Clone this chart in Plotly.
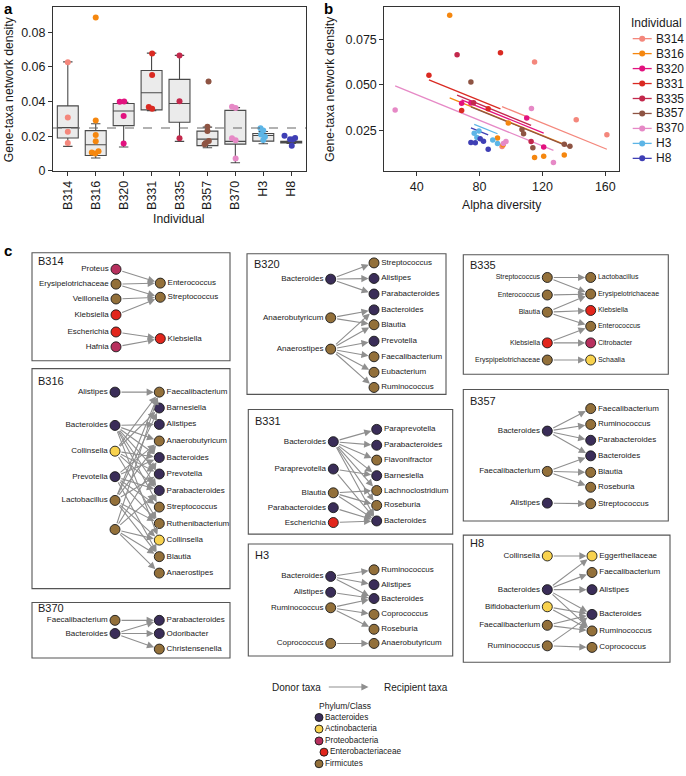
import plotly.graph_objects as go

W, H = 686, 776
FONT = "Liberation Sans, Arial, sans-serif"

# ---------------- Panels a / b data ----------------
individuals = ["B314", "B316", "B320", "B331", "B335", "B357", "B370", "H3", "H8"]

alpha_diversity = [
    [115, 141.5, 161, 94.3],
    [61, 98.3, 91.4, 133.9, 120.8, 115, 95],
    [68.6, 74.5, 110, 120.8],
    [93.3, 47.8, 85.5, 68.6],
    [65.7, 76.2, 112.8],
    [74.5, 107, 108, 113.9, 133.9, 137.5],
    [26.3, 113, 96.8, 95.2, 127],
    [79.6, 76.6, 78.3, 88.4, 91.4],
    [74.5, 77.3, 80.4, 82.5, 85.5],
]
network_density = [
    [0.0627, 0.0308, 0.0225, 0.0160],
    [0.0885, 0.0290, 0.0207, 0.0113, 0.0106, 0.0099, 0.0170],
    [0.0399, 0.0400, 0.0317, 0.0157],
    [0.0677, 0.0553, 0.0368, 0.0358],
    [0.0666, 0.0402, 0.0188],
    [0.0516, 0.0254, 0.0230, 0.0153, 0.0172, 0.0161],
    [0.0362, 0.0370, 0.0188, 0.0176, 0.0071],
    [0.0245, 0.0233, 0.0210, 0.0196, 0.0177],
    [0.0182, 0.0180, 0.0202, 0.0189, 0.0144],
]
# horizontal jitter of the panel-a points (category units)
point_jitter = [
    [0, 0, 0, 0],
    [0, 0, 0, 0.1, -0.14, -0.02, 0],
    [-0.14, 0.02, 0, 0],
    [0.02, 0.02, -0.1, 0.02],
    [0, 0, 0],
    [0.04, 0, 0, -0.1, 0.05, -0.06],
    [0.01, -0.12, -0.12, 0.01, 0.01],
    [-0.1, 0.0, -0.08, 0.06, 0.0],
    [-0.04, 0.05, -0.24, 0.14, 0.02],
]

box_lower = [0.0141, 0.0074, 0.0137, 0.0347, 0.0170, 0.0133, 0.0046, 0.0156, 0.0158]
box_q1 = [0.0189, 0.0088, 0.0261, 0.0352, 0.0280, 0.0145, 0.0154, 0.0171, 0.0160]
box_median = [0.0249, 0.0150, 0.0345, 0.0451, 0.0389, 0.0183, 0.0170, 0.0204, 0.0164]
box_q3 = [0.0375, 0.0232, 0.0389, 0.0579, 0.0528, 0.0229, 0.0349, 0.0215, 0.0170]
box_upper = [0.0629, 0.0272, 0.0395, 0.0680, 0.0667, 0.0252, 0.0365, 0.0227, 0.0172]
overall_median_density = 0.0247

fit_slope = -0.000353
fit_intercept = [0.0713, 0.0644, 0.0660, 0.0697, 0.0675, 0.0642, 0.0587, 0.0553, 0.0526]

ind_colors = ["#F4877C", "#F5870F", "#E2127F", "#DA2A22", "#C3284C", "#8E5443",
              "#E689C6", "#5DB5E6", "#3F3FB5"]

# ---------------- Panel c data ----------------
PHY_COL = {"Bacteroides": "#3A2D58", "Actinobacteria": "#F8D24E",
           "Proteobacteria": "#B7305E", "Enterobacteriaceae": "#E2261C",
           "Firmicutes": "#93703A"}
BAC, ACT, PRO, ENT, FIR = "Bacteroides", "Actinobacteria", "Proteobacteria", "Enterobacteriaceae", "Firmicutes"

B314_donors = ["Proteus", "Erysipelotrichaceae", "Veillonella", "Klebsiella", "Escherichia", "Hafnia"]
B314_donor_phyla = [PRO, FIR, FIR, ENT, ENT, PRO]
B314_recipients = ["Enterococcus", "Streptococcus", "Klebsiella"]
B314_recipient_phyla = [FIR, FIR, ENT]
B314_edges = [(0, 0), (1, 0), (1, 1), (2, 1), (3, 1), (4, 2), (5, 2)]

B316_donors = ["Alistipes", "Bacteroides", "Collinsella", "Prevotella", "Lactobacillus", ""]
B316_donor_phyla = [BAC, BAC, ACT, BAC, FIR, FIR]
B316_recipients = ["Faecalibacterium", "Barnesiella", "Alistipes", "Anaerobutyricum", "Bacteroides",
                   "Prevotella", "Parabacteroides", "Streptococcus", "Ruthenibacterium",
                   "Collinsella", "Blautia", "Anaerostipes"]
B316_recipient_phyla = [FIR, BAC, BAC, FIR, BAC, BAC, BAC, FIR, FIR, ACT, FIR, FIR]
B316_edges = [(0, 0),
              (1, 2), (1, 3), (1, 4), (1, 5), (1, 6), (1, 7), (1, 9),
              (2, 0), (2, 1), (2, 4), (2, 5), (2, 6), (2, 8),
              (3, 3), (3, 4), (3, 6), (3, 7), (3, 8), (3, 10),
              (4, 0), (4, 1), (4, 3), (4, 5), (4, 8), (4, 9), (4, 10),
              (5, 0), (5, 4), (5, 6), (5, 9), (5, 10), (5, 11)]

B370_donors = ["Faecalibacterium", "Bacteroides"]
B370_donor_phyla = [FIR, BAC]
B370_recipients = ["Parabacteroides", "Odoribacter", "Christensenella"]
B370_recipient_phyla = [BAC, BAC, FIR]
B370_edges = [(0, 0), (1, 0), (1, 1), (1, 2)]

B320_donors = ["Bacteroides", "Anaerobutyricum", "Anaerostipes"]
B320_donor_phyla = [BAC, FIR, FIR]
B320_recipients = ["Streptococcus", "Alistipes", "Parabacteroides", "Bacteroides", "Blautia",
                   "Prevotella", "Faecalibacterium", "Eubacterium", "Ruminococcus"]
B320_recipient_phyla = [FIR, BAC, BAC, BAC, FIR, BAC, FIR, FIR, FIR]
B320_edges = [(0, 0), (0, 1), (0, 2), (1, 3), (1, 4),
              (2, 3), (2, 4), (2, 5), (2, 6), (2, 7), (2, 8)]

B331_donors = ["Bacteroides", "Paraprevotella", "Blautia", "Parabacteroides", "Escherichia"]
B331_donor_phyla = [BAC, BAC, FIR, BAC, ENT]
B331_recipients = ["Paraprevotella", "Parabacteroides", "Flavonifractor", "Barnesiella",
                   "Lachnoclostridium", "Roseburia", "Bacteroides"]
B331_recipient_phyla = [BAC, BAC, FIR, BAC, FIR, FIR, BAC]
B331_edges = [(0, 0), (0, 1), (0, 2), (0, 3), (0, 4), (0, 5), (0, 6),
              (1, 3), (1, 6), (2, 4), (2, 5), (2, 6), (3, 6), (4, 6)]

H3_donors = ["Bacteroides", "Alistipes", "Ruminococcus", "Coprococcus"]
H3_donor_phyla = [BAC, BAC, FIR, FIR]
H3_recipients = ["Ruminococcus", "Alistipes", "Bacteroides", "Coprococcus", "Roseburia", "Anaerobutyricum"]
H3_recipient_phyla = [FIR, BAC, BAC, FIR, FIR, FIR]
H3_edges = [(0, 0), (0, 1), (0, 2), (1, 2), (2, 2), (2, 3), (2, 4), (3, 5)]

B335_donors = ["Streptococcus", "Enterococcus", "Blautia", "Klebsiella", "Eryspipelotrichaceae"]
B335_donor_phyla = [FIR, FIR, FIR, ENT, FIR]
B335_recipients = ["Lactobacillus", "Erysipelotrichaceae", "Klebsiella", "Enterococcus", "Citrobacter", "Schaalia"]
B335_recipient_phyla = [FIR, FIR, ENT, FIR, PRO, ACT]
B335_edges = [(0, 0), (0, 1), (1, 1), (2, 1), (2, 2), (2, 3), (3, 3), (3, 4), (4, 5)]

B357_donors = ["Bacteroides", "Faecalibacterium", "Alistipes"]
B357_donor_phyla = [BAC, FIR, BAC]
B357_recipients = ["Faecalibacterium", "Ruminococcus", "Parabacteroides", "Bacteroides",
                   "Blautia", "Roseburia", "Streptococcus"]
B357_recipient_phyla = [FIR, FIR, BAC, BAC, FIR, FIR, FIR]
B357_edges = [(0, 0), (0, 1), (0, 2), (0, 3), (1, 3), (1, 4), (1, 5), (2, 6)]

H8_donors = ["Collinsella", "Bacteroides", "Bifidobacterium", "Faecalibacterium", "Ruminococcus"]
H8_donor_phyla = [ACT, BAC, ACT, FIR, FIR]
H8_recipients = ["Eggerthellaceae", "Faecalibacterium", "Alistipes", "Bacteroides", "Ruminococcus", "Coprococcus"]
H8_recipient_phyla = [ACT, FIR, BAC, BAC, FIR, FIR]
H8_edges = [(0, 0), (1, 0), (1, 1), (1, 2), (1, 3), (1, 4),
            (2, 3), (2, 4), (3, 3), (3, 4), (4, 3), (4, 5)]

networks = [
    ("B314", B314_donors, B314_donor_phyla, B314_recipients, B314_recipient_phyla, B314_edges),
    ("B316", B316_donors, B316_donor_phyla, B316_recipients, B316_recipient_phyla, B316_edges),
    ("B370", B370_donors, B370_donor_phyla, B370_recipients, B370_recipient_phyla, B370_edges),
    ("B320", B320_donors, B320_donor_phyla, B320_recipients, B320_recipient_phyla, B320_edges),
    ("B331", B331_donors, B331_donor_phyla, B331_recipients, B331_recipient_phyla, B331_edges),
    ("H3", H3_donors, H3_donor_phyla, H3_recipients, H3_recipient_phyla, H3_edges),
    ("B335", B335_donors, B335_donor_phyla, B335_recipients, B335_recipient_phyla, B335_edges),
    ("B357", B357_donors, B357_donor_phyla, B357_recipients, B357_recipient_phyla, B357_edges),
    ("H8", H8_donors, H8_donor_phyla, H8_recipients, H8_recipient_phyla, H8_edges),
]
legend_phyla = ["Bacteroides", "Actinobacteria", "Proteobacteria", "Enterobacteriaceae", "Firmicutes"]

# ---------------- Panel c layout (pixel geometry) ----------------
net_geom = {
    "B314": dict(box=(32, 255, 230, 364), title=(36, 263), dx=116, rx=160.3, fs=8,
                 dy=[271.7, 286.7, 301.7, 317.7, 335, 350], ry=[285.7, 300, 341.7]),
    "B316": dict(box=(32, 372, 230, 594), title=(36, 384), dx=115, rx=159.3, fs=8,
                 dy=[395.7, 429.3, 455.3, 481, 505, 534.3],
                 ry=[395.7, 411.7, 428.3, 445, 461.7, 478.3, 495, 511.7, 528.3, 545, 561.7, 578.3]),
    "B370": dict(box=(32, 608, 230, 664), title=(36, 614), dx=115, rx=159.3, fs=8,
                 dy=[626, 639.3], ry=[626, 639.3, 655]),
    "B320": dict(box=(247, 256, 446, 398), title=(252, 266), dx=330.7, rx=374, fs=8,
                 dy=[281.7, 320.7, 352.3],
                 ry=[265.3, 281, 296.7, 312.7, 327.7, 344.3, 360, 375.7, 391]),
    "B331": dict(box=(248.3, 413.3, 452.7, 539), title=(253, 425), dx=333.3, rx=376.7, fs=8,
                 dy=[445.7, 473.3, 497.3, 512.3, 527.3],
                 ry=[433.3, 449.3, 464.3, 480, 495, 510, 525.7]),
    "H3": dict(box=(248.3, 549, 452.7, 662), title=(253, 560), dx=330.7, rx=374, fs=8,
               dy=[581.7, 597.7, 613.3, 649.3], ry=[575, 590, 604, 620, 635, 649.3]),
    "B335": dict(box=(463.3, 257, 668.3, 377.7), title=(468, 267), dx=547.3, rx=590.7, fs=7,
                 dy=[280, 297.7, 315, 346, 363.3], ry=[280, 296.7, 313.3, 329.3, 346, 363.3]),
    "B357": dict(box=(463.3, 393, 668.3, 525.7), title=(468, 405), dx=547.3, rx=590.7, fs=8,
                 dy=[435, 475.7, 507.7], ry=[412.3, 428.3, 444.3, 460, 476.7, 491.7, 508.3]),
    "H8": dict(box=(463.3, 540, 670, 668.3), title=(468, 548.3), dx=547.3, rx=592, fs=8,
               dy=[561, 595, 612.3, 631, 651.7], ry=[561, 577.7, 595, 620, 636.7, 653.3]),
}

fig = go.Figure()
shapes, annotations = [], []
TXT = "#1a1a1a"
AXC = "#333333"

# ---------------- Panel a ----------------
for i, name in enumerate(individuals):
    fig.add_trace(go.Box(
        x=[i], q1=[box_q1[i]], median=[box_median[i]], q3=[box_q3[i]],
        lowerfence=[box_lower[i]], upperfence=[box_upper[i]],
        width=0.75, whiskerwidth=0.45, fillcolor="#EBEBEB",
        line=dict(color="#4a4a4a", width=1.1), boxpoints=False,
        showlegend=False, xaxis="x", yaxis="y", hoverinfo="skip"))
shapes.append(dict(type="line", xref="x domain", yref="y", x0=0, x1=1,
                   y0=overall_median_density, y1=overall_median_density,
                   line=dict(color="#666666", width=1.1, dash="dash"), layer="above"))
for i, name in enumerate(individuals):
    xs = [i + j for j in point_jitter[i]]
    fig.add_trace(go.Scatter(
        x=xs, y=network_density[i], mode="markers",
        marker=dict(color=ind_colors[i], size=6), showlegend=False,
        xaxis="x", yaxis="y", hoverinfo="skip"))

# ---------------- Panel b ----------------
for i, name in enumerate(individuals):
    xa = alpha_diversity[i]
    x0, x1 = min(xa), max(xa)
    fig.add_trace(go.Scatter(
        x=[x0, x1], y=[fit_intercept[i] + fit_slope * x0, fit_intercept[i] + fit_slope * x1],
        mode="lines", line=dict(color=ind_colors[i], width=1.3), showlegend=False,
        xaxis="x2", yaxis="y2", hoverinfo="skip"))
for i, name in enumerate(individuals):
    fig.add_trace(go.Scatter(
        x=alpha_diversity[i], y=network_density[i], mode="markers",
        marker=dict(color=ind_colors[i], size=5.5), showlegend=False,
        xaxis="x2", yaxis="y2", hoverinfo="skip"))

# manual legend for panel b (pixel space)
leg_x0, leg_y0, leg_dy = 632.7, 39, 15.1
annotations.append(dict(x=628.5, y=23.3, xref="x3", yref="y3", text="Individual", showarrow=False,
                        xanchor="left", yanchor="middle", font=dict(size=12, color=TXT, family=FONT)))
for i, name in enumerate(individuals):
    yy = leg_y0 + i * leg_dy
    shapes.append(dict(type="line", xref="x3", yref="y3", x0=leg_x0, x1=leg_x0 + 19, y0=yy, y1=yy,
                       line=dict(color=ind_colors[i], width=1.3)))
    annotations.append(dict(x=654, y=yy, xref="x3", yref="y3", text=name, showarrow=False,
                            xanchor="left", yanchor="middle", font=dict(size=12, color=TXT, family=FONT)))
fig.add_trace(go.Scatter(
    x=[leg_x0 + 9.5] * len(individuals), y=[leg_y0 + i * leg_dy for i in range(len(individuals))],
    mode="markers", marker=dict(color=ind_colors, size=6), showlegend=False,
    xaxis="x3", yaxis="y3", hoverinfo="skip"))

# ---------------- Panel c ----------------
R = 5.0
for (name, dn, dp, rn, rp, edges) in networks:
    g = net_geom[name]
    bx0, by0, bx1, by1 = g["box"]
    shapes.append(dict(type="rect", xref="x3", yref="y3", x0=bx0, x1=bx1, y0=by0, y1=by1,
                       line=dict(color="#555555", width=1.1), fillcolor="rgba(0,0,0,0)", layer="below"))
    annotations.append(dict(x=g["title"][0], y=g["title"][1], xref="x3", yref="y3", text=name,
                            showarrow=False, xanchor="left", yanchor="middle",
                            font=dict(size=11, color=TXT, family=FONT)))
    for (d, r) in edges:
        annotations.append(dict(
            x=g["rx"], y=g["ry"][r], ax=g["dx"], ay=g["dy"][d],
            xref="x3", yref="y3", axref="x3", ayref="y3", text="", showarrow=True,
            arrowhead=2, arrowsize=1.3, arrowwidth=1.1, arrowcolor="#8f8f8f",
            standoff=R + 0.5, startstandoff=R))
    fig.add_trace(go.Scatter(
        x=[g["dx"]] * len(dn), y=g["dy"], mode="markers+text", text=dn,
        textposition="middle left", textfont=dict(size=g["fs"], color=TXT, family=FONT),
        marker=dict(size=2 * R, color=[PHY_COL[p] for p in dp], line=dict(color="#1a1a1a", width=0.9)),
        showlegend=False, xaxis="x3", yaxis="y3", hoverinfo="skip", cliponaxis=False))
    fig.add_trace(go.Scatter(
        x=[g["rx"]] * len(rn), y=g["ry"], mode="markers+text", text=rn,
        textposition="middle right", textfont=dict(size=g["fs"], color=TXT, family=FONT),
        marker=dict(size=2 * R, color=[PHY_COL[p] for p in rp], line=dict(color="#1a1a1a", width=0.9)),
        showlegend=False, xaxis="x3", yaxis="y3", hoverinfo="skip", cliponaxis=False))

# bottom legend
annotations.append(dict(x=323, y=693.3, xref="x3", yref="y3", text="Donor taxa", showarrow=False,
                        xanchor="right", yanchor="middle", font=dict(size=10, color=TXT, family=FONT)))
annotations.append(dict(x=382, y=693.3, xref="x3", yref="y3", text="Recipient taxa", showarrow=False,
                        xanchor="left", yanchor="middle", font=dict(size=10, color=TXT, family=FONT)))
annotations.append(dict(x=368.5, y=693.3, ax=327.3, ay=693.3, xref="x3", yref="y3", axref="x3", ayref="y3",
                        text="", showarrow=True, arrowhead=2, arrowsize=1.3, arrowwidth=1.1,
                        arrowcolor="#8f8f8f"))
annotations.append(dict(x=316.5, y=712.7, xref="x3", yref="y3", text="Phylum/Class", showarrow=False,
                        xanchor="left", yanchor="middle", font=dict(size=8.5, color=TXT, family=FONT)))
leg_ys = [724, 735.7, 747.7, 759, 770.7]
leg_xs = [319, 319, 319, 324, 319]
fig.add_trace(go.Scatter(
    x=leg_xs, y=leg_ys, mode="markers+text", text=legend_phyla, textposition="middle right",
    textfont=dict(size=8.2, color=TXT, family=FONT),
    marker=dict(size=8, color=[PHY_COL[p] for p in legend_phyla], line=dict(color="#1a1a1a", width=0.9)),
    showlegend=False, xaxis="x3", yaxis="y3", hoverinfo="skip", cliponaxis=False))

# titles & panel letters
annotations += [
    dict(x=2, y=9, xref="x3", yref="y3", text="<b>a</b>", showarrow=False, xanchor="left", yanchor="middle",
         font=dict(size=15, color="#000", family=FONT)),
    dict(x=322, y=9, xref="x3", yref="y3", text="<b>b</b>", showarrow=False, xanchor="left", yanchor="middle",
         font=dict(size=15, color="#000", family=FONT)),
    dict(x=2, y=253, xref="x3", yref="y3", text="<b>c</b>", showarrow=False, xanchor="left", yanchor="middle",
         font=dict(size=15, color="#000", family=FONT)),
    dict(x=9, y=90, xref="x3", yref="y3", text="Gene-taxa network density", showarrow=False,
         textangle=-90, xanchor="center", yanchor="middle", font=dict(size=12.2, color=TXT, family=FONT)),
    dict(x=330.5, y=90, xref="x3", yref="y3", text="Gene-taxa network density", showarrow=False,
         textangle=-90, xanchor="center", yanchor="middle", font=dict(size=12.2, color=TXT, family=FONT)),
    dict(x=178.5, y=221, xref="x3", yref="y3", text="Individual", showarrow=False,
         xanchor="center", yanchor="middle", font=dict(size=12.2, color=TXT, family=FONT)),
    dict(x=501.7, y=206.7, xref="x3", yref="y3", text="Alpha diversity", showarrow=False,
         xanchor="center", yanchor="middle", font=dict(size=12.2, color=TXT, family=FONT)),
]

ax_common = dict(showline=True, mirror=True, linecolor=AXC, linewidth=1, ticks="outside",
                 ticklen=4, tickcolor=AXC, showgrid=False, zeroline=False,
                 tickfont=dict(size=12.5, color=TXT, family=FONT))
y_top, y_bot = 7.3, 172.3
fig.update_layout(
    width=W, height=H, margin=dict(l=0, r=0, t=0, b=0),
    paper_bgcolor="white", plot_bgcolor="rgba(0,0,0,0)", showlegend=False,
    font=dict(family=FONT, color=TXT),
    xaxis=dict(domain=[53 / W, 306 / W], range=[-0.53, 8.53], tickvals=list(range(len(individuals))),
               ticktext=individuals, tickangle=-90, anchor="y", **ax_common),
    yaxis=dict(domain=[1 - y_bot / H, 1 - y_top / H], range=[0, 0.0945],
               tickvals=[0, 0.02, 0.04, 0.06, 0.08], ticktext=["0", "0.02", "0.04", "0.06", "0.08"],
               anchor="x", **ax_common),
    xaxis2=dict(domain=[384.3 / W, 619.3 / W], range=[19.4, 168.9], tickvals=[40, 80, 120, 160],
                anchor="y2", **ax_common),
    yaxis2=dict(domain=[1 - y_bot / H, 1 - y_top / H], range=[0.0026, 0.0929],
                tickvals=[0.025, 0.05, 0.075], ticktext=["0.025", "0.050", "0.075"], anchor="x2", **ax_common),
    xaxis3=dict(domain=[0, 1], range=[0, W], visible=False, anchor="y3", fixedrange=True),
    yaxis3=dict(domain=[0, 1], range=[H, 0], visible=False, anchor="x3", fixedrange=True),
    shapes=shapes, annotations=annotations,
)

fig.write_html("out.html", config={"displayModeBar": False, "staticPlot": True},
               post_script="document.body.style.margin='0px';document.body.style.overflow='hidden';")
